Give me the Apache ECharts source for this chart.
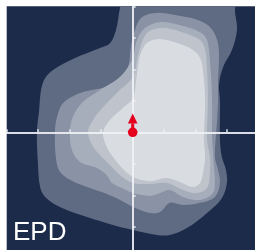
<!DOCTYPE html>
<html>
<head>
<meta charset="utf-8">
<script src="https://cdn.jsdelivr.net/npm/echarts@6/dist/echarts.min.js"></script>
<style>
  html, body { margin: 0; padding: 0; background: #fff; }
  #chart { width: 255px; height: 250px; }
</style>
</head>
<body>
<div id="chart"></div>
<script>
// density contour levels, outer to inner (x, y in axis units)
const level1 = [
  [-0.31, 4.3], [-0.40, 3.98], [-0.53, 3.25], [-0.72, 2.83], [-1.04, 2.68], [-1.83, 2.36],
  [-2.53, 1.98], [-2.78, 1.72], [-2.91, 1.34], [-2.97, 0.71], [-3.04, 0.01], [-3.01, -0.97],
  [-2.94, -1.74], [-2.78, -2.05], [-2.31, -2.37], [-1.45, -2.69], [-0.63, -2.94], [0.01, -3.10],
  [0.77, -3.26], [1.18, -3.26], [1.72, -3.04], [2.36, -2.56], [2.83, -2.09], [2.99, -1.61],
  [2.96, -1.20], [2.83, -0.78], [2.77, -0.24], [2.77, 1.03], [2.74, 1.50], [2.87, 2.07],
  [3.15, 2.61], [3.31, 3.25], [3.25, 3.79], [3.18, 4.3]
];
const level2 = [
  [0.07, 3.25], [0.30, 3.66], [0.77, 3.79], [1.34, 3.72], [2.04, 3.57], [2.45, 3.34],
  [2.68, 2.93], [2.74, 2.45], [2.71, 1.66], [2.71, 1.03], [2.68, 0.39], [2.61, -0.78],
  [2.71, -1.20], [2.77, -1.61], [2.61, -2.05], [2.14, -2.24], [1.60, -2.31], [1.18, -2.24],
  [0.87, -2.53], [0.55, -2.56], [0.01, -2.37], [-0.40, -2.15], [-0.82, -1.96], [-1.45, -1.74],
  [-1.99, -1.51], [-2.31, -1.25], [-2.43, -0.88], [-2.47, 0.01], [-2.40, 0.49], [-2.21, 0.93],
  [-1.67, 1.25], [-0.50, 1.56], [-0.15, 2.07], [-0.05, 2.77]
];
const level3 = [
  [0.14, 2.93], [0.39, 3.31], [0.87, 3.50], [1.50, 3.41], [2.14, 3.18], [2.36, 2.93],
  [2.45, 2.29], [2.52, 1.03], [2.52, -0.24], [2.55, -0.66], [2.58, -1.10], [2.61, -1.52],
  [2.55, -1.93], [2.14, -2.15], [1.60, -2.05], [1.18, -1.83], [0.87, -1.93], [0.55, -2.02],
  [0.01, -1.93], [-0.34, -1.77], [-0.66, -1.61], [-0.82, -1.36], [-1.13, -1.13], [-1.67, -0.94],
  [-1.93, -0.56], [-1.99, 0.01], [-1.90, 0.49], [-1.58, 0.96], [-1.04, 1.34], [-0.40, 1.76],
  [-0.02, 2.30]
];
const level4 = [
  [0.17, 2.45], [0.45, 3.15], [0.93, 3.31], [1.57, 3.18], [2.14, 2.93], [2.30, 2.61],
  [2.36, 1.98], [2.39, 1.03], [2.36, -0.24], [2.45, -0.78], [2.45, -1.29], [2.36, -1.77],
  [2.04, -1.93], [1.60, -1.83], [1.09, -1.61], [0.55, -1.64], [0.01, -1.61], [-0.40, -1.36],
  [-0.72, -1.04], [-1.04, -0.72], [-1.29, -0.40], [-1.42, 0.01], [-1.26, 0.39], [-0.94, 0.80],
  [-0.50, 1.25], [0.01, 1.76]
];
const level5 = [
  [0.30, 2.61], [0.49, 2.87], [0.87, 2.96], [1.50, 2.80], [1.91, 2.61], [2.14, 2.36],
  [2.23, 1.98], [2.30, 1.03], [2.26, -0.24], [2.30, -0.78], [2.23, -1.29], [2.14, -1.61],
  [1.91, -1.74], [1.50, -1.58], [1.09, -1.45], [0.55, -1.55], [0.01, -1.42], [-0.34, -1.13],
  [-0.63, -0.78], [-0.85, -0.40], [-0.94, 0.01], [-0.72, 0.39], [-0.31, 0.77], [0.01, 1.09],
  [0.11, 1.66], [0.20, 2.29]
];
const levels = [level1, level2, level3, level4, level5];

// observed point and its direction
const marker = [0, 0];
const arrowTip = [0, 0.60];

const axisMin = -4;
const axisMax = 4;
const tickStep = 1;

const levelColors = ['#5f6a83', '#8a92a5', '#a7aebb', '#bec3cc', '#d9dce1'];
const red = '#e5001e';
const axisColor = 'rgba(240,242,246,0.9)';

const chart = echarts.init(document.getElementById('chart'));

const axisCommon = {
  type: 'value',
  min: axisMin,
  max: axisMax,
  interval: tickStep,
  z: 3,
  axisLine: { show: true, onZero: true, lineStyle: { color: axisColor, width: 2 } },
  axisTick: { show: true, inside: true, length: 3, lineStyle: { color: axisColor, width: 1.5 } },
  axisLabel: { show: false },
  splitLine: { show: false }
};

chart.setOption({
  animation: false,
  grid: {
    left: 6.7,
    top: 6.3,
    width: 252,
    height: 252,
    outerBoundsMode: 'none',
    show: true,
    backgroundColor: '#1c2b4a',
    borderWidth: 0
  },
  xAxis: axisCommon,
  yAxis: axisCommon,
  graphic: [{
    type: 'text',
    left: 13,
    top: 220,
    z: 10,
    style: {
      text: 'EPD',
      fill: '#fff',
      font: '26px "Liberation Sans", Arial, sans-serif'
    }
  }],
  series: [
    {
      type: 'custom',
      coordinateSystem: 'cartesian2d',
      clip: true,
      silent: true,
      z: 2,
      data: levels.map((pts, i) => [pts[0][0], pts[0][1], i]),
      renderItem: (params, api) => {
        const pts = levels[params.dataIndex].map((p) => api.coord(p));
        return {
          type: 'polygon',
          shape: { points: pts, smooth: 0.35 },
          style: { fill: levelColors[params.dataIndex] }
        };
      }
    },
    {
      type: 'custom',
      coordinateSystem: 'cartesian2d',
      silent: true,
      z: 4,
      data: [[marker[0], marker[1], arrowTip[0], arrowTip[1]]],
      renderItem: (params, api) => {
        const base = api.coord([api.value(0), api.value(1)]);
        const tip = api.coord([api.value(2), api.value(3)]);
        const headLen = 10;
        const headHalf = 4.8;
        return {
          type: 'group',
          children: [
            {
              type: 'line',
              shape: { x1: base[0], y1: base[1], x2: tip[0], y2: tip[1] + headLen },
              style: { stroke: red, lineWidth: 3 }
            },
            {
              type: 'polygon',
              shape: {
                points: [
                  [tip[0], tip[1]],
                  [tip[0] - headHalf, tip[1] + headLen],
                  [tip[0] + headHalf, tip[1] + headLen]
                ]
              },
              style: { fill: red }
            },
            {
              type: 'circle',
              shape: { cx: base[0], cy: base[1], r: 4.8 },
              style: { fill: red }
            }
          ]
        };
      }
    }
  ]
});
</script>
</body>
</html>
